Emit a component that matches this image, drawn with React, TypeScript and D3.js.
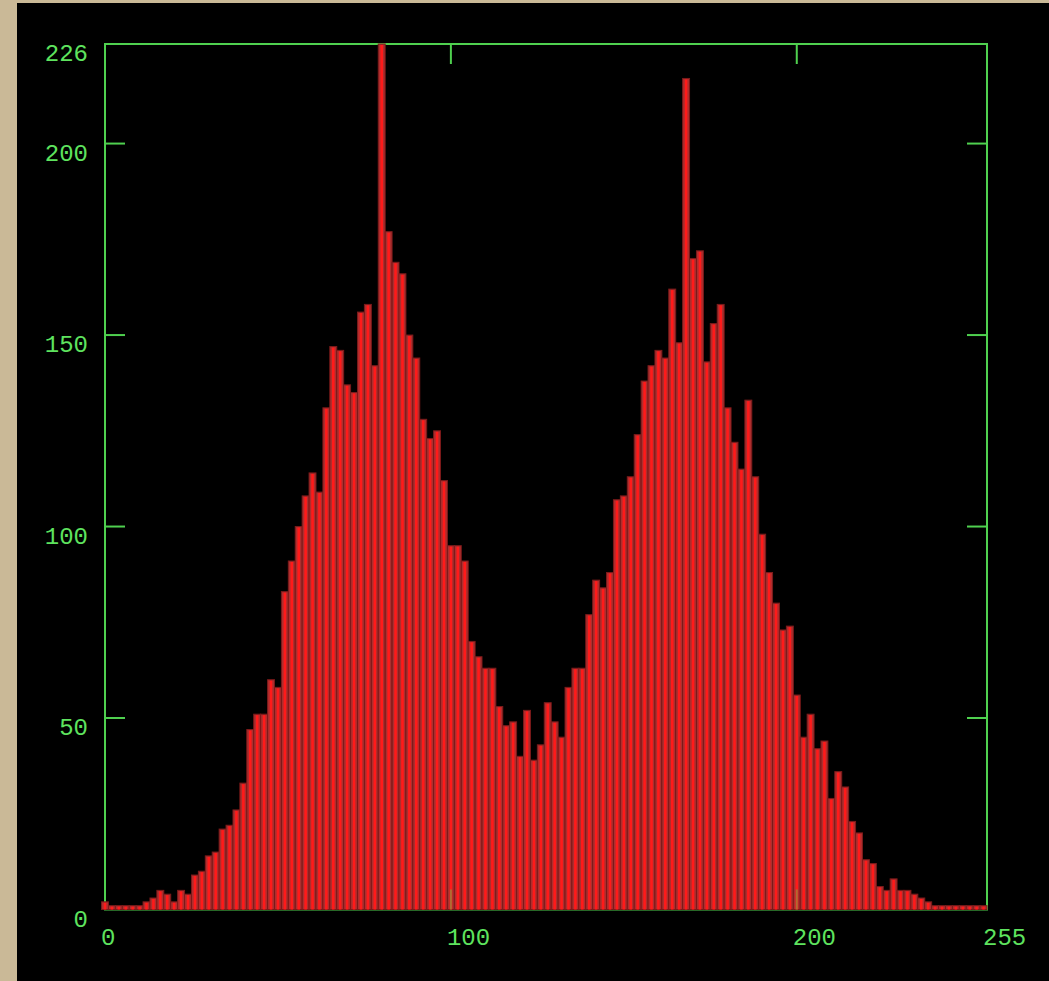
import React, { useEffect, useRef } from "react";
import * as d3 from "d3";

// histogram counts, one bar per 2 grey levels
const counts = [
  2, 1, 1, 1, 1, 1, 2, 3, 5, 4,
  2, 5, 4, 9, 10, 14, 15, 21, 22, 26,
  33, 47, 51, 51, 60, 58, 83, 91, 100, 108,
  114, 109, 131, 147, 146, 137, 135, 156, 158, 142,
  226, 177, 169, 166, 150, 144, 128, 123, 125, 112,
  95, 95, 91, 70, 66, 63, 63, 53, 48, 49,
  40, 52, 39, 43, 54, 49, 45, 58, 63, 63,
  77, 86, 84, 88, 107, 108, 113, 124, 138, 142,
  146, 144, 162, 148, 217, 170, 172, 143, 153, 158,
  131, 122, 115, 133, 113, 98, 88, 80, 73, 74,
  56, 45, 51, 42, 44, 29, 36, 32, 23, 20,
  13, 12, 6, 5, 8, 5, 5, 4, 3, 2,
  1, 1, 1, 1, 1, 1, 1, 1,
];
const binSize = 2;

const yTicks = [0, 50, 100, 150, 200, 226];
const xTicks = [0, 100, 200, 255];
const sideTicks = [50, 100, 150, 200];
const topTicks = [100, 200];

export default function App() {
  const ref = useRef<SVGSVGElement>(null);

  useEffect(() => {
    const width = 1049;
    const height = 981;
    const green = "#4fd04f";
    const textGreen = "#5ee35e";

    const x = d3.scaleLinear().domain([0, 255]).range([105, 987]);
    const y = d3.scaleLinear().domain([0, 226]).range([909.5, 44]);

    const svg = d3.select(ref.current);
    svg.selectAll("*").remove();

    svg.append("rect").attr("width", width).attr("height", height).attr("fill", "#cab997");
    svg
      .append("rect")
      .attr("x", 17)
      .attr("y", 3)
      .attr("width", width - 17)
      .attr("height", height - 3)
      .attr("fill", "#000");

    // frame
    svg
      .append("rect")
      .attr("x", x(0))
      .attr("y", y(226))
      .attr("width", x(255) - x(0))
      .attr("height", y(0) - y(226))
      .attr("fill", "none")
      .attr("stroke", green)
      .attr("stroke-width", 2);

    sideTicks.forEach((v) => {
      svg.append("line").attr("x1", x(0)).attr("x2", x(0) + 20)
        .attr("y1", y(v)).attr("y2", y(v)).attr("stroke", green).attr("stroke-width", 2);
      svg.append("line").attr("x1", x(255) - 20).attr("x2", x(255))
        .attr("y1", y(v)).attr("y2", y(v)).attr("stroke", green).attr("stroke-width", 2);
    });
    topTicks.forEach((v) => {
      svg.append("line").attr("x1", x(v)).attr("x2", x(v))
        .attr("y1", y(226)).attr("y2", y(226) + 20).attr("stroke", green).attr("stroke-width", 2);
    });

    const bars = svg.append("g");
    counts.forEach((c, i) => {
      const x0 = x(i * binSize - 1);
      const x1 = x(i * binSize + binSize - 1);
      bars
        .append("rect")
        .attr("x", x0)
        .attr("y", y(c))
        .attr("width", x1 - x0)
        .attr("height", y(0) - y(c))
        .attr("fill", "#ad2e2e")
        .attr("stroke", "#7c1a1a")
        .attr("stroke-width", 1);
      bars
        .append("rect")
        .attr("x", (x0 + x1) / 2 - 1.3)
        .attr("y", y(c) + 1)
        .attr("width", 2.6)
        .attr("height", Math.max(0, y(0) - y(c) - 1))
        .attr("fill", "#ff1a1a");
    });

    topTicks.forEach((v) => {
      svg.append("line").attr("x1", x(v)).attr("x2", x(v))
        .attr("y1", y(0)).attr("y2", y(0) - 20)
        .attr("stroke", green).attr("stroke-width", 2).attr("opacity", 0.45);
    });

    svg
      .selectAll(".ylab")
      .data(yTicks)
      .enter()
      .append("text")
      .attr("x", 88)
      .attr("y", (d) => y(d) + 17)
      .attr("text-anchor", "end")
      .attr("font-family", "Liberation Mono, DejaVu Sans Mono, monospace")
      .attr("font-size", 24)
      .attr("fill", textGreen)
      .text((d) => d);

    svg
      .selectAll(".xlab")
      .data(xTicks)
      .enter()
      .append("text")
      .attr("x", (d) => x(d) - 4)
      .attr("y", 945)
      .attr("text-anchor", "start")
      .attr("font-family", "Liberation Mono, DejaVu Sans Mono, monospace")
      .attr("font-size", 24)
      .attr("fill", textGreen)
      .text((d) => d);
  }, []);

  return (
    <svg
      ref={ref}
      width={1049}
      height={981}
      style={{ position: "absolute", left: 0, top: 0, display: "block" }}
    />
  );
}
